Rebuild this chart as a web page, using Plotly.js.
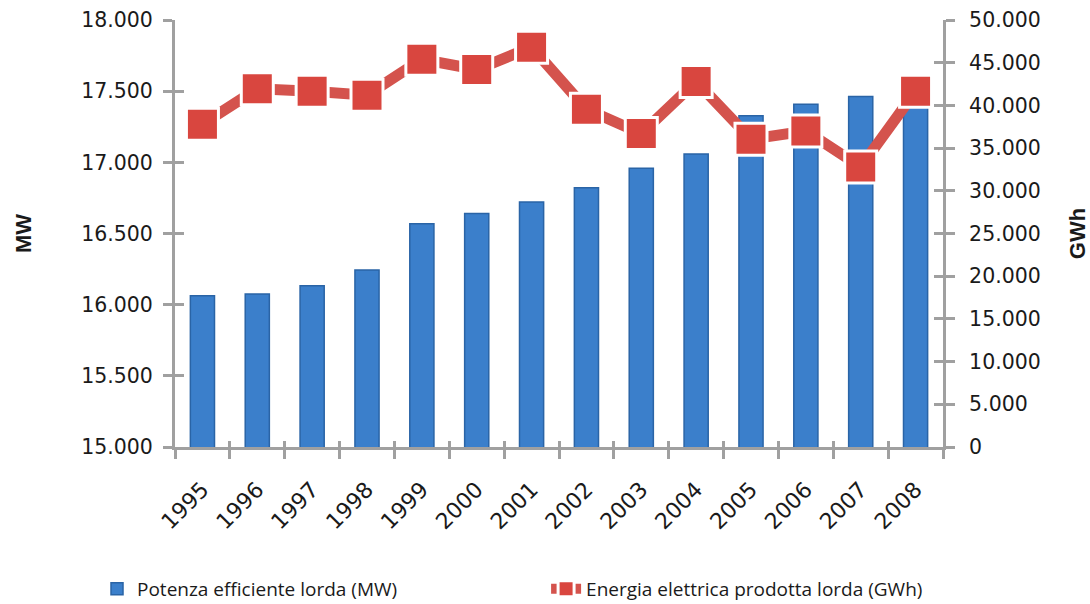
<!DOCTYPE html>
<html>
<head>
<meta charset="utf-8">
<script src="https://cdn.plot.ly/plotly-3.0.1.min.js"></script>
<style>html,body{margin:0;padding:0;background:#fff;}#chart{width:1090px;height:604px;}</style>
</head>
<body>
<div id="chart"></div>
<script>
const years = ['1995','1996','1997','1998','1999','2000','2001','2002','2003','2004','2005','2006','2007','2008'];
const potenzaMW = [16063, 16075, 16133, 16244, 16569, 16640, 16722, 16822, 16958, 17059, 17328, 17408, 17462, 17550];
const energiaGWh = [37800, 41950, 41650, 41200, 45400, 44200, 46820, 39550, 36700, 42800, 36050, 37000, 32800, 41650];
const mwTicks = [15000, 15500, 16000, 16500, 17000, 17500, 18000];
const gwhTicks = [0, 5000, 10000, 15000, 20000, 25000, 30000, 35000, 40000, 45000, 50000];
const nameBar = 'Potenza efficiente lorda (MW)';
const nameLine = 'Energia elettrica prodotta lorda (GWh)';

const axisGray = '#a0a0a0';
const yTickFont = {family: 'DejaVu Sans', size: 20.5, color: '#1a1a1a'};
const xTickFont = {family: 'DejaVu Sans', size: 22, color: '#1a1a1a'};
const titleFont = {family: 'Liberation Sans', size: 22, color: '#1a1a1a'};
const legendFont = {family: 'Open Sans', size: 19, color: '#1a1a1a'};
const xr = [-0.5, years.length - 0.5];

const traces = [
  {
    type: 'bar', x: years, y: potenzaMW, name: nameBar, yaxis: 'y', xaxis: 'x', legend: 'legend',
    marker: {color: '#3b7fcb', line: {color: '#2a64a6', width: 1.5}},
    hoverinfo: 'skip'
  },
  {
    type: 'scatter', mode: 'lines+markers', x: years, y: energiaGWh, name: nameLine,
    xaxis: 'x', yaxis: 'y2', legend: 'legend2',
    line: {color: '#d4534d', width: 11},
    marker: {symbol: 'square', size: 32, color: '#d9463f', line: {color: '#ffffff', width: 3}},
    hoverinfo: 'skip'
  },
  { type: 'scatter', x: years, y: years.map(() => null), xaxis: 'x2', yaxis: 'y3', showlegend: false, hoverinfo: 'skip' },
  { type: 'scatter', x: years, y: years.map(() => null), xaxis: 'x', yaxis: 'y4', showlegend: false, hoverinfo: 'skip' }
];

const layout = {
  width: 1090, height: 604,
  paper_bgcolor: '#ffffff', plot_bgcolor: '#ffffff',
  separators: ',.',
  margin: {l: 175, r: 147, t: 20, b: 157},
  bargap: 0.56,
  showlegend: true,
  legend: {
    orientation: 'h', xref: 'container', yref: 'container',
    x: 0.089, y: 0.025, xanchor: 'left', yanchor: 'middle',
    font: legendFont, bgcolor: 'rgba(0,0,0,0)'
  },
  legend2: {
    orientation: 'h', xref: 'container', yref: 'container',
    x: 0.501, y: 0.025, xanchor: 'left', yanchor: 'middle',
    font: legendFont, bgcolor: 'rgba(0,0,0,0)'
  },
  xaxis: {
    type: 'category', range: xr, autorange: false, showgrid: false, zeroline: false,
    showline: true, linecolor: axisGray, linewidth: 3,
    ticks: 'outside', tickson: 'boundaries', ticklen: 9, tickwidth: 3, tickcolor: axisGray,
    tickangle: -45, tickfont: xTickFont, ticklabelstandoff: 18
  },
  xaxis2: {
    type: 'category', range: xr, autorange: false, overlaying: 'x', anchor: 'y', side: 'bottom',
    showgrid: false, zeroline: false, showline: false, showticklabels: false,
    ticks: 'inside', tickson: 'boundaries', ticklen: 6, tickwidth: 3, tickcolor: axisGray
  },
  yaxis: {
    range: [15000, 18000], autorange: false, tickvals: mwTicks, tickformat: ',d',
    showgrid: false, zeroline: false, showline: true, linecolor: axisGray, linewidth: 3,
    ticks: 'outside', ticklen: 9, tickwidth: 3, tickcolor: axisGray,
    tickfont: yTickFont, ticklabelstandoff: 6,
    title: {text: '<b>MW</b>', font: titleFont, standoff: 44}
  },
  yaxis2: {
    range: [0, 50000], autorange: false, tickvals: gwhTicks, tickformat: ',d', overlaying: 'y', side: 'right', anchor: 'x',
    showgrid: false, zeroline: false, showline: true, linecolor: axisGray, linewidth: 3,
    ticks: 'outside', ticklen: 9, tickwidth: 3, tickcolor: axisGray,
    tickfont: yTickFont, ticklabelstandoff: 10,
    title: {text: '<b>GWh</b>', font: titleFont, standoff: 30}
  },
  yaxis3: {
    range: [15000, 18000], autorange: false, tickvals: mwTicks, overlaying: 'y', side: 'left', anchor: 'x2',
    showgrid: false, zeroline: false, showline: false, showticklabels: false,
    ticks: 'inside', ticklen: 9, tickwidth: 3, tickcolor: axisGray
  },
  yaxis4: {
    range: [0, 50000], autorange: false, tickvals: gwhTicks, overlaying: 'y', side: 'right', anchor: 'x',
    showgrid: false, zeroline: false, showline: false, showticklabels: false,
    ticks: 'inside', ticklen: 9, tickwidth: 3, tickcolor: axisGray
  }
};

Plotly.newPlot('chart', traces, layout, {displayModeBar: false, staticPlot: true});
</script>
</body>
</html>
